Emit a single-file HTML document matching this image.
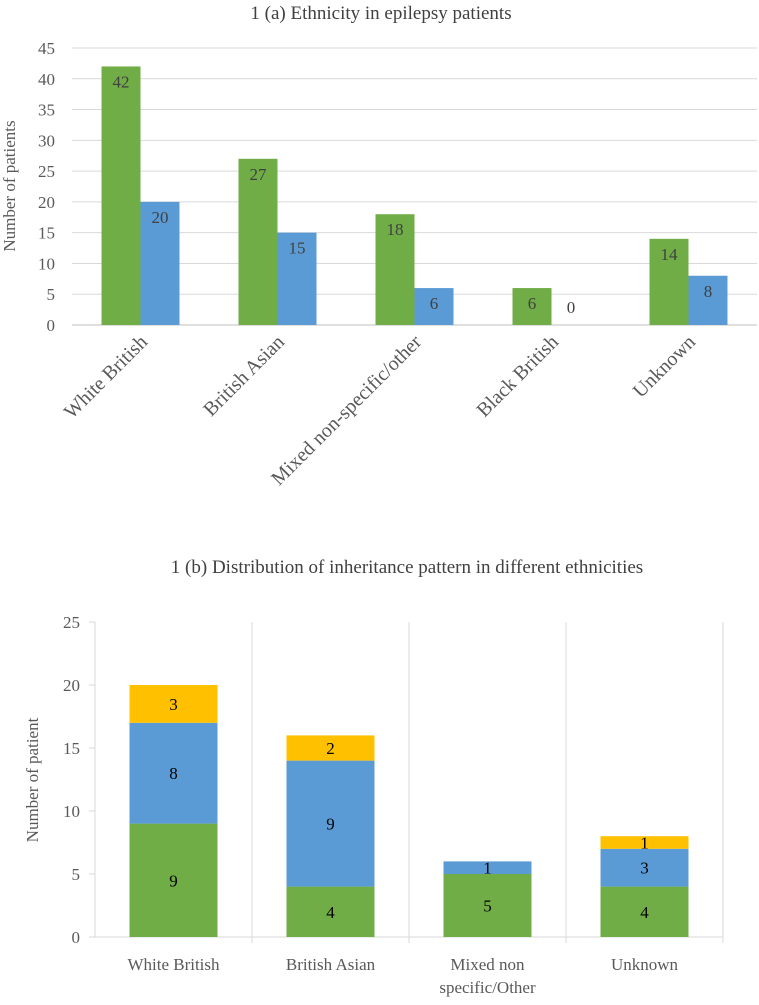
<!DOCTYPE html>
<html><head><meta charset="utf-8"><style>
body{margin:0;background:#fff}
svg, svg text{font-family:"Liberation Serif","Noto Serif CJK SC","DejaVu Serif",serif}
</style></head><body>
<svg id="s" width="759" height="1000" viewBox="0 0 759 1000">
<text x="381" y="19" text-anchor="middle" font-size="19" fill="#404040">1 (a) Ethnicity in epilepsy patients</text>
<text transform="translate(15,186) rotate(-90)" text-anchor="middle" font-size="17" fill="#595959">Number of patients</text>
<text x="407" y="573" text-anchor="middle" font-size="19" fill="#404040">1 (b) Distribution of inheritance pattern in different ethnicities</text>
<text transform="translate(38,780) rotate(-90)" text-anchor="middle" font-size="17" fill="#595959">Number of patient</text>
<g id="ga"></g><g id="gb"></g>
</svg>
<script>
const catsA=["White British","British Asian","Mixed non-specific/other","Black British","Unknown"];
const epilepsy=[42,27,18,6,14];
const genetic=[20,15,6,0,8];
const ticksA=[0,5,10,15,20,25,30,35,40,45];
const catsB=[["White British"],["British Asian"],["Mixed non","specific/Other"],["Unknown"]];
const greenB=[9,4,5,4];
const blueB=[8,10,1,3];
const blueLbl=[8,9,1,3];
const yellowB=[3,2,0,1];
const ticksB=[0,5,10,15,20,25];
const NS="http://www.w3.org/2000/svg";
function mk(p,t,a,txt){const e=document.createElementNS(NS,t);for(const k in a)e.setAttribute(k,a[k]);if(txt!==undefined)e.textContent=txt;p.appendChild(e);return e;}
// chart A
const ga=document.getElementById('ga');
const yA=v=>325-v*(277/45), x0A=72, cwA=137;
ticksA.forEach(t=>{
 const l=mk(ga,'line',{x1:x0A,x2:757,y1:yA(t),y2:yA(t),stroke:t?'#d9d9d9':'#bfbfbf','stroke-width':1});
 
 
 const tx=mk(ga,'text',{x:55,y:yA(t)+6,'text-anchor':'end','font-size':17,fill:'#595959'},t);
 
 
});
catsA.forEach((c,i)=>{
 const cx=x0A+cwA*(i+0.5);
 const g=mk(ga,'rect',{x:cx-39,y:yA(epilepsy[i]),width:39,height:yA(0)-yA(epilepsy[i]),fill:'#70ad47'});
 
 
 const b=mk(ga,'rect',{x:cx,y:yA(genetic[i]),width:39,height:yA(0)-yA(genetic[i]),fill:'#5b9bd5'});
 
 
 const l1=mk(ga,'text',{x:cx-19.5,y:yA(epilepsy[i])+21,'text-anchor':'middle','font-size':17,fill:'#404040'},epilepsy[i]);
 
 
 const l2=mk(ga,'text',{x:cx+19.5,y:(genetic[i]?yA(genetic[i])+21:yA(0)-12),'text-anchor':'middle','font-size':17,fill:'#404040'},genetic[i]);
 
 
 const xl=mk(ga,'text',{transform:`translate(${cx+8},343) rotate(-45)`,'text-anchor':'end','font-size':20,fill:'#595959'},c);
 
 
});
// chart B
const gb=document.getElementById('gb');
const yB=v=>937-v*(315/25), x0B=95, cwB=157;
mk(gb,'line',{x1:x0B,x2:x0B,y1:yB(25),y2:yB(0),stroke:'#d9d9d9'});
mk(gb,'line',{x1:x0B,x2:x0B+4*cwB,y1:yB(0),y2:yB(0),stroke:'#d9d9d9'});
for(let i=1;i<=4;i++){const s=mk(gb,'line',{x1:x0B+cwB*i,x2:x0B+cwB*i,y1:yB(25),y2:yB(0)+6,stroke:'#d9d9d9'});
 
 }
ticksB.forEach(t=>{
 const tk=mk(gb,'line',{x1:x0B-6,x2:x0B,y1:yB(t),y2:yB(t),stroke:'#d9d9d9'});
 
 
 const tx=mk(gb,'text',{x:80,y:yB(t)+6,'text-anchor':'end','font-size':17,fill:'#595959'},t);
 
 
});
catsB.forEach((c,i)=>{
 const cx=x0B+cwB*(i+0.5);
 let base=0;
 [[greenB,'#70ad47','inherited-a',greenB],[blueB,'#5b9bd5','inherited-b',blueLbl],[yellowB,'#ffc000','inherited-c',yellowB]].forEach(([arr,col,nm,lab])=>{
  const v=arr[i]; if(!v) return;
  const r=mk(gb,'rect',{x:cx-44,y:yB(base+v),width:88,height:yB(base)-yB(base+v),fill:col});
  
  
  const t=mk(gb,'text',{x:cx,y:(yB(base)+yB(base+v))/2+6,'text-anchor':'middle','font-size':17,fill:'#000'},lab[i]);
  
  
  base+=v;
 });
 c.forEach((ln,j)=>{
  const xl=mk(gb,'text',{x:cx,y:970+j*23,'text-anchor':'middle','font-size':17,fill:'#595959'},ln);
  
  
 });
});
</script>
</body></html>
